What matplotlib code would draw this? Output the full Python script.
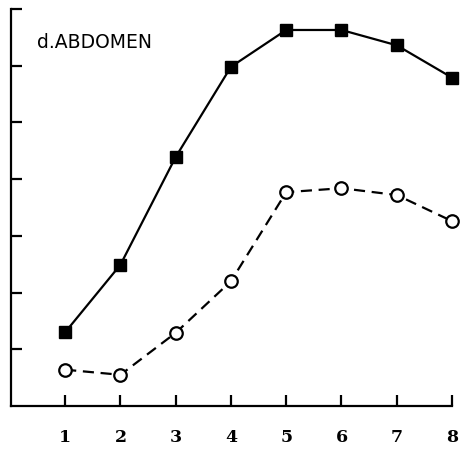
import matplotlib
matplotlib.use("Agg")
import matplotlib.pyplot as plt

# Days of measurement and the two abdomen series
days = [1, 2, 3, 4, 5, 6, 7, 8]
filled_series = [1.30, 2.49, 4.39, 5.98, 6.63, 6.63, 6.36, 5.79]
open_series = [0.64, 0.55, 1.29, 2.20, 3.77, 3.84, 3.72, 3.26]
x_tick_labels = ["1", "2", "3", "4", "5", "6", "7", "8"]
y_ticks = [1, 2, 3, 4, 5, 6, 7]
panel_title = "d.ABDOMEN"

W, H = 461, 452
fig = plt.figure(figsize=(W / 100, H / 100), dpi=100)
ax = fig.add_axes([11 / W, (H - 407) / H, (452 - 11) / W, (407 - 10) / H])

ax.plot(days, filled_series, color="black", lw=1.6, marker="s", ms=9,
        mfc="black", mec="black", clip_on=False, zorder=3)
ax.plot(days, open_series, color="black", lw=1.6, ls=(0, (5, 3)), marker="o",
        ms=9, mfc="white", mec="black", mew=1.6, clip_on=False, zorder=3)

ax.set_xlim(0.02, 8.0)
ax.set_ylim(0, 7)
ax.set_xticks(days)
ax.set_xticklabels(x_tick_labels, fontsize=12.5, fontweight="bold",
                   family="DejaVu Serif")
ax.set_yticks(y_ticks)
ax.set_yticklabels([])

for side in ("top", "right"):
    ax.spines[side].set_visible(False)
for side in ("left", "bottom"):
    ax.spines[side].set_linewidth(1.6)

ax.tick_params(axis="x", direction="in", length=8, width=1.6, pad=16)
ax.tick_params(axis="y", direction="in", length=8, width=1.6)

ax.text(0.059, 0.917, panel_title, transform=ax.transAxes,
        fontsize=13.5, family="DejaVu Sans", ha="left", va="center")

fig.savefig("out.png", dpi=100)
